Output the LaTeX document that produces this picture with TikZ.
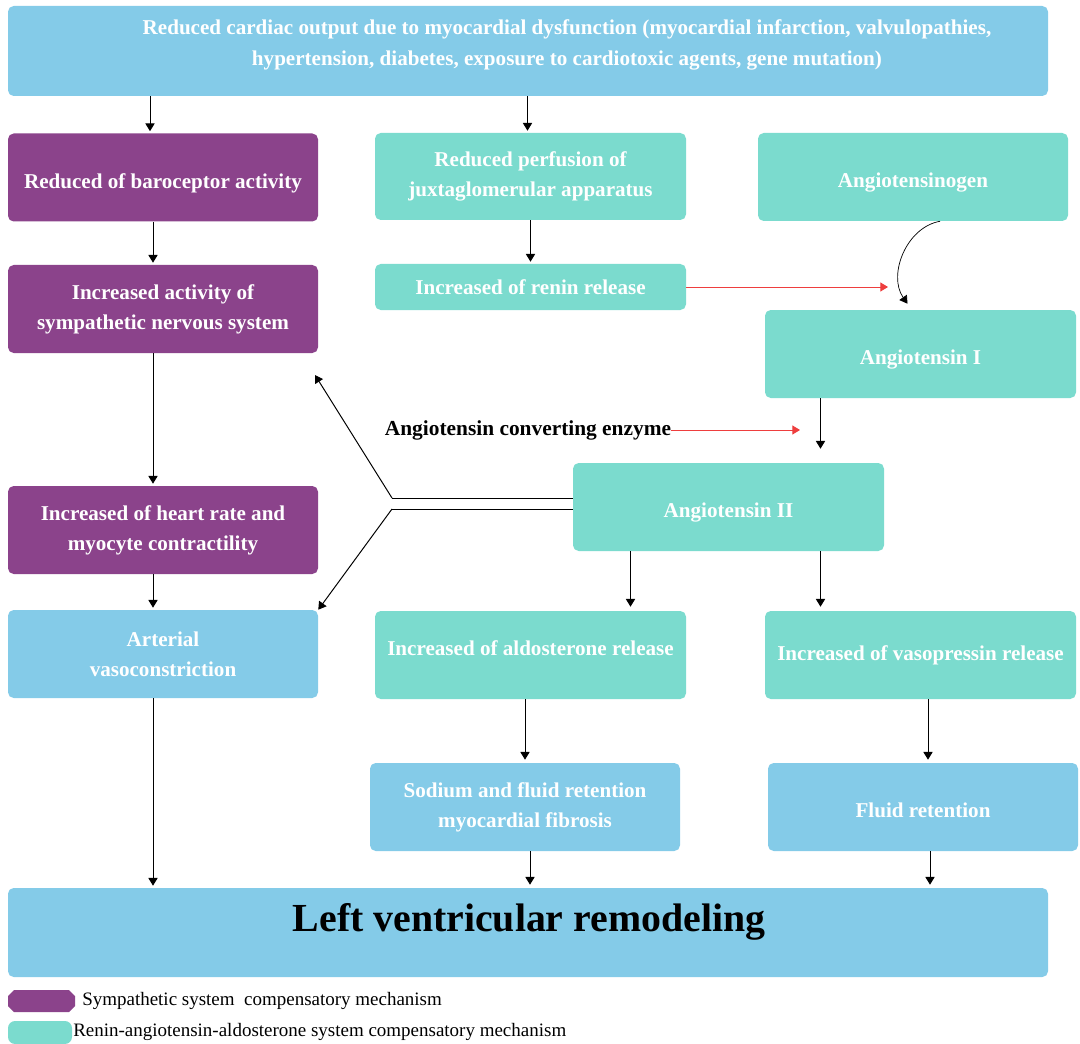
\documentclass[tikz,border=0pt]{standalone}
\usepackage{fontspec}
\setmainfont{Liberation Serif}
\usepackage{tikz}
\usetikzlibrary{arrows.meta, positioning, calc}
\usepackage{xcolor}
\definecolor{skyblue}{RGB}{132,203,232}
\definecolor{plum}{RGB}{139,67,139}
\definecolor{aqua}{RGB}{123,219,206}
\definecolor{redarrow}{RGB}{238,62,62}
\newlength\pu
\setlength\pu{0.025cm}

\tikzset{
  box/.style={rounded corners=4pt, minimum width=310\pu, minimum height=88\pu,
    inner sep=0pt, align=center, text=white,
    font=\fontsize{15}{21.5}\selectfont\bfseries},
  lowtext/.style={text height=18pt, text depth=3pt},
  hightext/.style={text height=11pt, text depth=11pt},
  arr/.style={line width=0.7pt, -{Triangle[width=6.5pt,length=5.5pt]}},
  redarr/.style={line width=0.7pt, redarrow, -{Triangle[width=6.5pt,length=5.5pt]}},
  legtext/.style={anchor=west, inner sep=0pt, font=\fontsize{13.5}{16}\selectfont}
}

\begin{document}
\begin{tikzpicture}[x=1\pu, y=-1\pu]
  \useasboundingbox (0,0) rectangle (1080,1044);
  % Top cause
  \node[box, fill=skyblue, minimum width=1040\pu, minimum height=90\pu] (cardiac) at (528,51) {};
  \node[box, minimum width=0pt, minimum height=0pt] (cardiactxt) at (567,45)
    {Reduced cardiac output due to myocardial dysfunction (myocardial infarction, valvulopathies,\\
     hypertension, diabetes, exposure to cardiotoxic agents, gene mutation)};
  % Sympathetic column
  \node[box, lowtext, fill=plum] (baro) at (163,177.5) {Reduced of baroceptor activity};
  \node[box, fill=plum] (symp) at (163,309) {Increased activity of\\ sympathetic nervous system};
  \node[box, fill=plum] (heart) at (163,530) {Increased of heart rate and\\ myocyte contractility};
  \node[box, fill=skyblue] (vaso) at (163,654) {Arterial\\ vasoconstriction};
  % Renin-angiotensin side
  \node[box, fill=aqua, minimum width=311\pu, minimum height=87\pu] (perf) at (530.5,176.5)
    {Reduced perfusion of\\ juxtaglomerular apparatus};
  \node[box, fill=aqua, minimum width=311\pu, minimum height=46\pu] (renin) at (530.5,287)
    {Increased of renin release};
  \node[box, lowtext, fill=aqua] (agen) at (913,177) {Angiotensinogen};
  \node[box, lowtext, fill=aqua, minimum width=311\pu] (ang1) at (920.5,354) {Angiotensin I};
  \node[box, lowtext, fill=aqua, minimum width=311\pu] (ang2) at (728.5,507) {Angiotensin II};
  \node[box, hightext, fill=aqua, minimum width=311\pu] (aldo) at (530.5,655) {Increased of aldosterone release};
  \node[box, fill=aqua, minimum width=311\pu] (vasop) at (920.5,655) {Increased of vasopressin release};
  \node[box, fill=skyblue] (sodium) at (525,807) {Sodium and fluid retention\\ myocardial fibrosis};
  \node[box, lowtext, fill=skyblue] (fluid) at (923,807) {Fluid retention};
  \node[box, fill=skyblue, minimum width=1040\pu, minimum height=89\pu] (lvr) at (528,932.5) {};
  \node[inner sep=0pt, font=\fontsize{28.3}{32}\selectfont\bfseries] (lvrtxt) at (529,922)
    {Left ventricular remodeling};
  \node[inner sep=0pt, font=\fontsize{15.2}{17}\selectfont\bfseries] (ace) at (528,430)
    {Angiotensin converting enzyme};
  % Free ends
  \coordinate (reninend) at (888,287);
  \coordinate (aceend) at (800,430);
  \coordinate (forkup) at (392,498);
  \coordinate (forkdown) at (392,509);
  \coordinate (sympend) at (315,375);
  % Down arrows, left column
  \draw[arr] ([xshift=-13\pu]baro.north |- cardiac.south) -- ([xshift=-13\pu,yshift=2\pu]baro.north);
  \draw[arr] ([xshift=-10\pu]baro.south) -- ([xshift=-10\pu,yshift=2\pu]symp.north);
  \draw[arr] ([xshift=-10\pu]symp.south) -- ([xshift=-10\pu,yshift=2\pu]heart.north);
  \draw[arr] ([xshift=-10\pu]heart.south) -- ([xshift=-10\pu,yshift=2\pu]vaso.north);
  \draw[arr] ([xshift=-10\pu]vaso.south) -- ([xshift=-10\pu,yshift=2\pu]vaso.south |- lvr.north);
  % Renin branch
  \draw[arr] ([xshift=-3\pu]perf.north |- cardiac.south) -- ([xshift=-3\pu,yshift=2\pu]perf.north);
  \draw[arr] (perf.south) -- ([yshift=2\pu]renin.north);
  \draw[redarr] (renin.east) -- (reninend);
  \draw[arr, line width=0.5pt] ([xshift=27\pu]agen.south) to[out=190, in=125] ([xshift=-13\pu,yshift=6\pu]ang1.north);
  \draw[arr] ([xshift=-100\pu]ang1.south) -- ([xshift=-100\pu,yshift=14\pu]ang1.south |- ang2.north);
  \draw[redarr] (ace.east) -- (aceend);
  % Angiotensin II effects
  \draw[line width=0.5pt] ([yshift=9\pu]ang2.west) -- (forkup);
  \draw[line width=0.5pt] ([yshift=-2\pu]ang2.west) -- (forkdown);
  \draw[arr] (forkup) -- (sympend);
  \draw[arr] (forkdown) -- (vaso.north east);
  \draw[arr] ([xshift=-98\pu]ang2.south) -- ([xshift=-98\pu,yshift=4\pu]ang2.south |- aldo.north);
  \draw[arr] ([xshift=92\pu]ang2.south) -- ([xshift=92\pu,yshift=4\pu]ang2.south |- vasop.north);
  \draw[arr] (sodium.north |- aldo.south) -- ([yshift=3\pu]sodium.north);
  \draw[arr] ([xshift=5\pu]fluid.north |- vasop.south) -- ([xshift=5\pu,yshift=3\pu]fluid.north);
  \draw[arr] ([xshift=5\pu]sodium.south) -- ([xshift=5\pu,yshift=3\pu]sodium.south |- lvr.north);
  \draw[arr] ([xshift=7\pu]fluid.south) -- ([xshift=7\pu,yshift=3\pu]fluid.south |- lvr.north);
  % Legend
  \fill[plum] (14,990) -- (69,990) -- (75,996) -- (75,1006) -- (69,1012) -- (14,1012) -- (8,1006) -- (8,996) -- cycle;
  \node[rounded corners=5pt, fill=aqua, minimum width=64\pu, minimum height=23\pu, inner sep=0pt]
    (legras) at (40,1032.5) {};
  \node[legtext] (legsymtxt) at (82,1001) {Sympathetic system\ \ compensatory mechanism};
  \node[legtext] (legrastxt) at (73,1032) {Renin-angiotensin-aldosterone system compensatory mechanism};
\end{tikzpicture}
\end{document}
